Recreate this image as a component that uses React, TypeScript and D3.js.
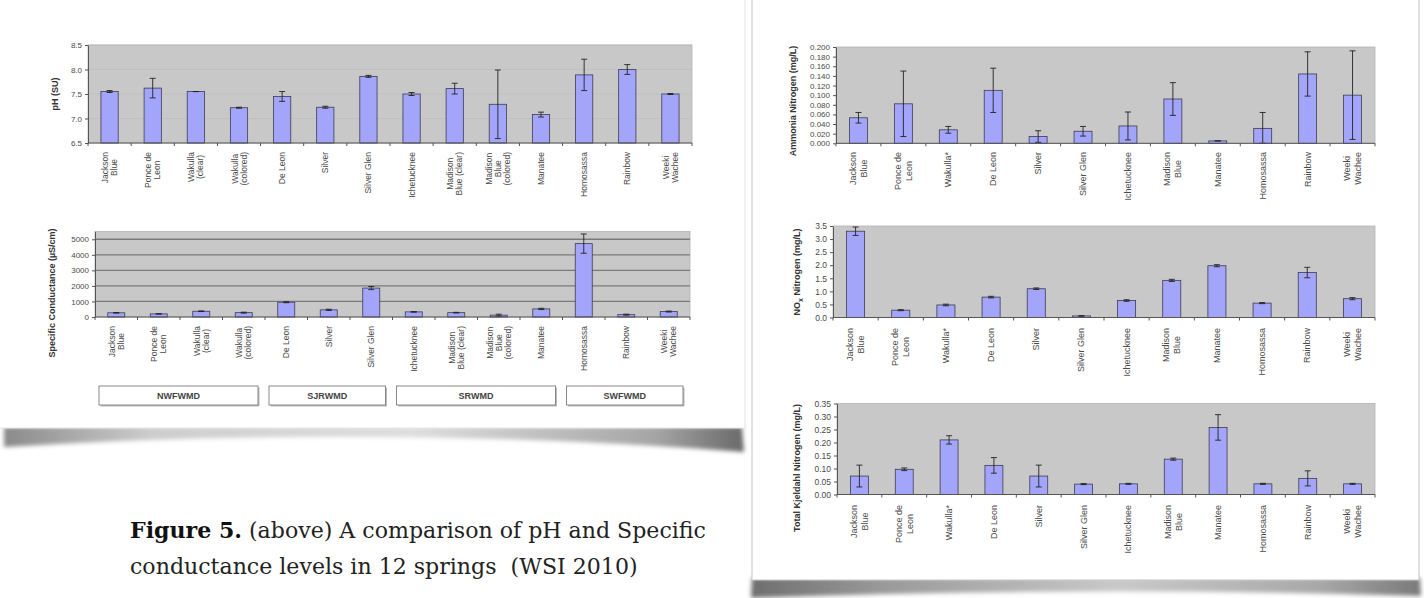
import React, { useEffect, useRef } from 'react';
import * as d3 from 'd3';

const W = 1424;
const H = 598;
const SANS = '"Liberation Sans", Arial, sans-serif';
const SERIF = '"DejaVu Serif", serif';

// ---------- Left figure: pH and specific conductance (14 sampling sites) ----------
const siteNames = [
  'Jackson\nBlue', 'Ponce de\nLeon', 'Wakulla\n(clear)', 'Wakulla\n(colored)', 'De Leon', 'Silver',
  'Silver Glen', 'Ichetucknee', 'Madison\nBlue (clear)', 'Madison\nBlue\n(colored)', 'Manatee',
  'Homosassa', 'Rainbow', 'Weeki\nWachee',
];
const phMean = [7.55, 7.62, 7.55, 7.22, 7.45, 7.23, 7.86, 7.50, 7.61, 7.29, 7.08, 7.89, 8.00, 7.50];
const phErr = [0.02, 0.2, 0.0, 0.01, 0.1, 0.02, 0.02, 0.03, 0.11, 0.7, 0.05, 0.32, 0.1, 0.01];
const phTicks = [6.5, 7.0, 7.5, 8.0, 8.5];

const condMean = [270, 200, 370, 280, 950, 460, 1860, 330, 280, 120, 520, 4720, 150, 350];
const condErr = [20, 10, 20, 30, 30, 40, 100, 20, 20, 60, 40, 620, 30, 30];
const condTicks = [0, 1000, 2000, 3000, 4000, 5000];

const districtNames = ['NWFWMD', 'SJRWMD', 'SRWMD', 'SWFWMD'];
const districtFirst = [0, 4, 7, 11];
const districtLast = [3, 6, 10, 13];

// ---------- Right figure: nitrogen species (12 springs) ----------
const springNames = [
  'Jackson\nBlue', 'Ponce de\nLeon', 'Wakulla*', 'De Leon', 'Silver', 'Silver Glen', 'Ichetucknee',
  'Madison\nBlue', 'Manatee', 'Homosassa', 'Rainbow', 'Weeki\nWachee',
];
const ammoniaMean = [0.053, 0.082, 0.028, 0.110, 0.014, 0.025, 0.036, 0.092, 0.005, 0.031, 0.144, 0.100];
const ammoniaErr = [0.011, 0.068, 0.007, 0.046, 0.012, 0.010, 0.029, 0.034, 0.0, 0.033, 0.046, 0.092];
const ammoniaTicks = [0, 0.02, 0.04, 0.06, 0.08, 0.1, 0.12, 0.14, 0.16, 0.18, 0.2];

const noxMean = [3.30, 0.28, 0.48, 0.78, 1.10, 0.06, 0.65, 1.42, 1.98, 0.55, 1.72, 0.72];
const noxErr = [0.16, 0.02, 0.03, 0.03, 0.03, 0.01, 0.03, 0.04, 0.04, 0.02, 0.2, 0.04];
const noxTicks = [0, 0.5, 1.0, 1.5, 2.0, 2.5, 3.0, 3.5];

const tknMean = [0.071, 0.097, 0.210, 0.112, 0.071, 0.040, 0.041, 0.136, 0.258, 0.041, 0.062, 0.041];
const tknErr = [0.042, 0.005, 0.016, 0.03, 0.042, 0.002, 0.002, 0.004, 0.049, 0.002, 0.029, 0.002];
const tknTicks = [0, 0.05, 0.1, 0.15, 0.2, 0.25, 0.3, 0.35];

const captionBold = 'Figure 5.';
const captionRest = ' (above) A comparison of pH and Specific';
const captionLine2 = 'conductance levels in 12 springs  (WSI 2010)';

type TitlePart = [string, boolean];

interface ChartOpts {
  names: string[];
  mean: number[];
  err: number[];
  ticks: number[];
  domain: [number, number];
  fmt: string;
  left: number;
  right: number;
  top: number;
  bottom: number;
  labelTop: number;
  title: TitlePart[];
  titleX: number;
  titleY: number;
  catFont: number;
  lineGap: number;
  tickFont: number;
  grid?: 'faint' | 'dark';
}

let measureCtx: CanvasRenderingContext2D | null = null;
function measure(text: string, font: string): number {
  if (!measureCtx) measureCtx = document.createElement('canvas').getContext('2d');
  measureCtx!.font = font;
  return measureCtx!.measureText(text).width;
}

function drawBarChart(root: d3.Selection<SVGGElement, unknown, null, undefined>, o: ChartOpts) {
  const g = root.append('g');
  const n = o.names.length;
  const x = d3.scaleBand<number>().domain(d3.range(n)).range([o.left, o.right]).padding(0);
  const y = d3.scaleLinear().domain(o.domain).range([o.bottom, o.top]);

  g.append('rect')
    .attr('x', o.left).attr('y', o.top)
    .attr('width', o.right - o.left).attr('height', o.bottom - o.top)
    .attr('fill', '#c8c8c8').attr('stroke', '#b3b3b3').attr('stroke-width', 0.8);

  if (o.grid) {
    g.selectAll('line.grid')
      .data(o.ticks.filter((t) => t > o.domain[0]))
      .join('line')
      .attr('class', 'grid')
      .attr('x1', o.left).attr('x2', o.right)
      .attr('y1', (d) => y(d)).attr('y2', (d) => y(d))
      .attr('stroke', o.grid === 'dark' ? '#7a7a7a' : '#bdbdbd')
      .attr('stroke-width', o.grid === 'dark' ? 1.3 : 0.7);
  }

  const bw = x.bandwidth() * 0.4;
  const cx = (i: number) => (x(i) as number) + x.bandwidth() / 2;

  g.selectAll('rect.bar')
    .data(o.mean)
    .join('rect')
    .attr('class', 'bar')
    .attr('x', (_d, i) => cx(i) - bw / 2)
    .attr('y', (d) => y(d))
    .attr('width', bw)
    .attr('height', (d) => y(o.domain[0]) - y(d))
    .attr('fill', '#a3a5fb')
    .attr('stroke', '#3c3c50')
    .attr('stroke-width', 0.8);

  const eb = g.append('g').attr('stroke', '#222').attr('stroke-width', 0.9);
  o.mean.forEach((m, i) => {
    const e = o.err[i];
    const hi = y(Math.min(m + e, o.domain[1]));
    const lo = y(Math.max(m - e, o.domain[0]));
    const c = cx(i);
    eb.append('line').attr('x1', c).attr('x2', c).attr('y1', hi).attr('y2', lo);
    eb.append('line').attr('x1', c - 3).attr('x2', c + 3).attr('y1', hi).attr('y2', hi);
    eb.append('line').attr('x1', c - 3).attr('x2', c + 3).attr('y1', lo).attr('y2', lo);
  });

  // y axis
  const ya = d3.axisLeft(y)
    .tickValues(o.ticks)
    .tickFormat(d3.format(o.fmt) as any)
    .tickSizeInner(3)
    .tickSizeOuter(0)
    .tickPadding(3);
  const yg = g.append('g').attr('transform', `translate(${o.left},0)`).call(ya as any);
  yg.select('.domain').attr('stroke', '#555').attr('stroke-width', 1);
  yg.selectAll('.tick line').attr('stroke', '#555');
  yg.selectAll('.tick text')
    .attr('font-size', o.tickFont)
    .attr('font-family', SANS)
    .attr('fill', '#4a4a4a');

  // x axis
  g.append('line')
    .attr('x1', o.left).attr('x2', o.right)
    .attr('y1', o.bottom).attr('y2', o.bottom)
    .attr('stroke', '#555').attr('stroke-width', 1);
  g.selectAll('line.xtick')
    .data(d3.range(n + 1))
    .join('line')
    .attr('class', 'xtick')
    .attr('x1', (i) => (i < n ? (x(i) as number) : o.right))
    .attr('x2', (i) => (i < n ? (x(i) as number) : o.right))
    .attr('y1', o.bottom).attr('y2', o.bottom + 3)
    .attr('stroke', '#555');

  // category labels (rotated, lines centered within the block, block aligned to the axis)
  const font = `${o.catFont}px "Liberation Sans"`;
  o.names.forEach((name, i) => {
    const lines = name.split('\n');
    const block = d3.max(lines, (l) => measure(l, font)) as number;
    lines.forEach((line, j) => {
      const lx = cx(i) + (j - (lines.length - 1) / 2) * o.lineGap;
      const ly = o.labelTop + block / 2;
      g.append('text')
        .attr('transform', `translate(${lx},${ly}) rotate(-90)`)
        .attr('text-anchor', 'middle')
        .attr('dominant-baseline', 'central')
        .attr('font-size', o.catFont)
        .attr('font-family', SANS)
        .attr('fill', '#4a4a4a')
        .text(line);
    });
  });

  // y title
  const t = g.append('text')
    .attr('transform', `translate(${o.titleX},${o.titleY}) rotate(-90)`)
    .attr('text-anchor', 'middle')
    .attr('dominant-baseline', 'central')
    .attr('font-size', 9)
    .attr('font-weight', 'bold')
    .attr('font-family', SANS)
    .attr('fill', '#333');
  o.title.forEach(([txt, sub]) => {
    const s = t.append('tspan').text(txt);
    if (sub) s.attr('baseline-shift', 'sub').attr('font-size', 7);
  });

  return x;
}

export default function App() {
  const ref = useRef<SVGSVGElement>(null);

  useEffect(() => {
    const svg = d3.select(ref.current);
    svg.selectAll('*').remove();
    const root = svg.append('g');

    const defs = root.append('defs');
    defs.append('filter').attr('id', 'blur').attr('x', '-5%').attr('y', '-50%').attr('width', '110%').attr('height', '200%')
      .append('feGaussianBlur').attr('stdDeviation', 2.2);
    const lg = defs.append('linearGradient').attr('id', 'shadowL').attr('x1', 0).attr('x2', 1).attr('y1', 0).attr('y2', 0);
    [[0, '#8a8a8a'], [0.2, '#cdcdcd'], [0.55, '#dedede'], [0.88, '#a5a5a5'], [1, '#6a6a6a']].forEach(([o, c]) =>
      lg.append('stop').attr('offset', o as number).attr('stop-color', c as string));
    const rg = defs.append('linearGradient').attr('id', 'shadowR').attr('x1', 0).attr('x2', 1).attr('y1', 0).attr('y2', 0);
    [[0, '#6f6f6f'], [0.2, '#9a9a9a'], [0.55, '#c9c9c9'], [0.85, '#a8a8a8'], [1, '#7a7a7a']].forEach(([o, c]) =>
      rg.append('stop').attr('offset', o as number).attr('stop-color', c as string));

    root.append('rect').attr('width', W).attr('height', H).attr('fill', '#ffffff');

    // left card shadow + card
    root.append('path')
      .attr('d', 'M4,427 L742,427 L744,452 Q380,424 4,447 Z')
      .attr('fill', 'url(#shadowL)')
      .attr('filter', 'url(#blur)');
    root.append('rect').attr('x', -2).attr('y', -2).attr('width', 747).attr('height', 430)
      .attr('fill', '#fff').attr('stroke', '#e2e2e2');

    // right card shadow + card
    root.append('path')
      .attr('d', 'M752,578 L1420,578 L1421,596 Q1090,586 751,598 Z')
      .attr('fill', 'url(#shadowR)')
      .attr('filter', 'url(#blur)');
    root.append('rect').attr('x', 752).attr('y', -2).attr('width', 667).attr('height', 582)
      .attr('fill', '#fff').attr('stroke', '#c4c4c4');

    // ---- left figure ----
    drawBarChart(root, {
      names: siteNames, mean: phMean, err: phErr, ticks: phTicks, domain: [6.5, 8.5], fmt: '.1f',
      left: 88, right: 692, top: 45, bottom: 143, labelTop: 152,
      title: [['pH (SU)', false]], titleX: 55, titleY: 94, catFont: 8.5, lineGap: 9, tickFont: 8, grid: 'faint',
    });
    const xc = drawBarChart(root, {
      names: siteNames, mean: condMean, err: condErr, ticks: condTicks, domain: [0, 5500], fmt: 'd',
      left: 95, right: 690, top: 231.5, bottom: 317, labelTop: 326,
      title: [['Specific Conductance (\u00b5S/cm)', false]], titleX: 52, titleY: 293, catFont: 8.5, lineGap: 9,
      tickFont: 8, grid: 'dark',
    });

    // district boxes
    const dg = root.append('g');
    districtNames.forEach((name, k) => {
      const x0 = (xc(districtFirst[k]) as number) + 4;
      const x1 = Math.min((xc(districtLast[k]) as number) + xc.bandwidth() - 7, 690);
      dg.append('rect').attr('x', x0 + 1.5).attr('y', 387.5).attr('width', x1 - x0).attr('height', 19)
        .attr('fill', '#bdbdbd');
      dg.append('rect').attr('x', x0).attr('y', 386).attr('width', x1 - x0).attr('height', 19)
        .attr('fill', '#fff').attr('stroke', '#7d7d7d').attr('stroke-width', 0.9);
      dg.append('text').attr('x', (x0 + x1) / 2).attr('y', 396).attr('text-anchor', 'middle')
        .attr('dominant-baseline', 'central').attr('font-size', 9).attr('font-weight', 'bold')
        .attr('font-family', SANS).attr('fill', '#444').text(name);
    });

    // ---- right figure ----
    drawBarChart(root, {
      names: springNames, mean: ammoniaMean, err: ammoniaErr, ticks: ammoniaTicks, domain: [0, 0.2], fmt: '.3f',
      left: 836, right: 1375, top: 47, bottom: 143.3, labelTop: 152,
      title: [['Ammonia Nitrogen (mg/L)', false]], titleX: 793, titleY: 101, catFont: 9, lineGap: 11, tickFont: 8,
    });
    drawBarChart(root, {
      names: springNames, mean: noxMean, err: noxErr, ticks: noxTicks, domain: [0, 3.5], fmt: '.1f',
      left: 833, right: 1375, top: 226, bottom: 317.5, labelTop: 328,
      title: [['NO', false], ['x', true], [' Nitrogen (mg/L)', false]], titleX: 797, titleY: 272, catFont: 9,
      lineGap: 11, tickFont: 8.5,
    });
    drawBarChart(root, {
      names: springNames, mean: tknMean, err: tknErr, ticks: tknTicks, domain: [0, 0.35], fmt: '.2f',
      left: 837, right: 1375, top: 403.5, bottom: 494.5, labelTop: 505,
      title: [['Total Kjeldahl Nitrogen (mg/L)', false]], titleX: 797, titleY: 468, catFont: 9, lineGap: 11,
      tickFont: 8.5,
    });

    // ---- caption ----
    const base = 20;
    const wBold = measure(captionBold, `bold ${base}px "DejaVu Serif"`);
    const wRest = measure(captionRest, `${base}px "DejaVu Serif"`);
    const size = base * 576 / (wBold + wRest);
    const cap = root.append('g').attr('font-family', SERIF).attr('font-size', size).attr('fill', '#222');
    const l1 = cap.append('text').attr('x', 130).attr('y', 538).attr('xml:space', 'preserve')
      .style('white-space', 'pre');
    l1.append('tspan').attr('font-weight', 'bold').attr('fill', '#111').text(captionBold);
    l1.append('tspan').text(captionRest);
    cap.append('text').attr('x', 130).attr('y', 574).attr('xml:space', 'preserve')
      .style('white-space', 'pre').text(captionLine2);
  }, []);

  return (
    <svg
      ref={ref}
      width={W}
      height={H}
      style={{ position: 'absolute', left: 0, top: 0, display: 'block' }}
    />
  );
}
